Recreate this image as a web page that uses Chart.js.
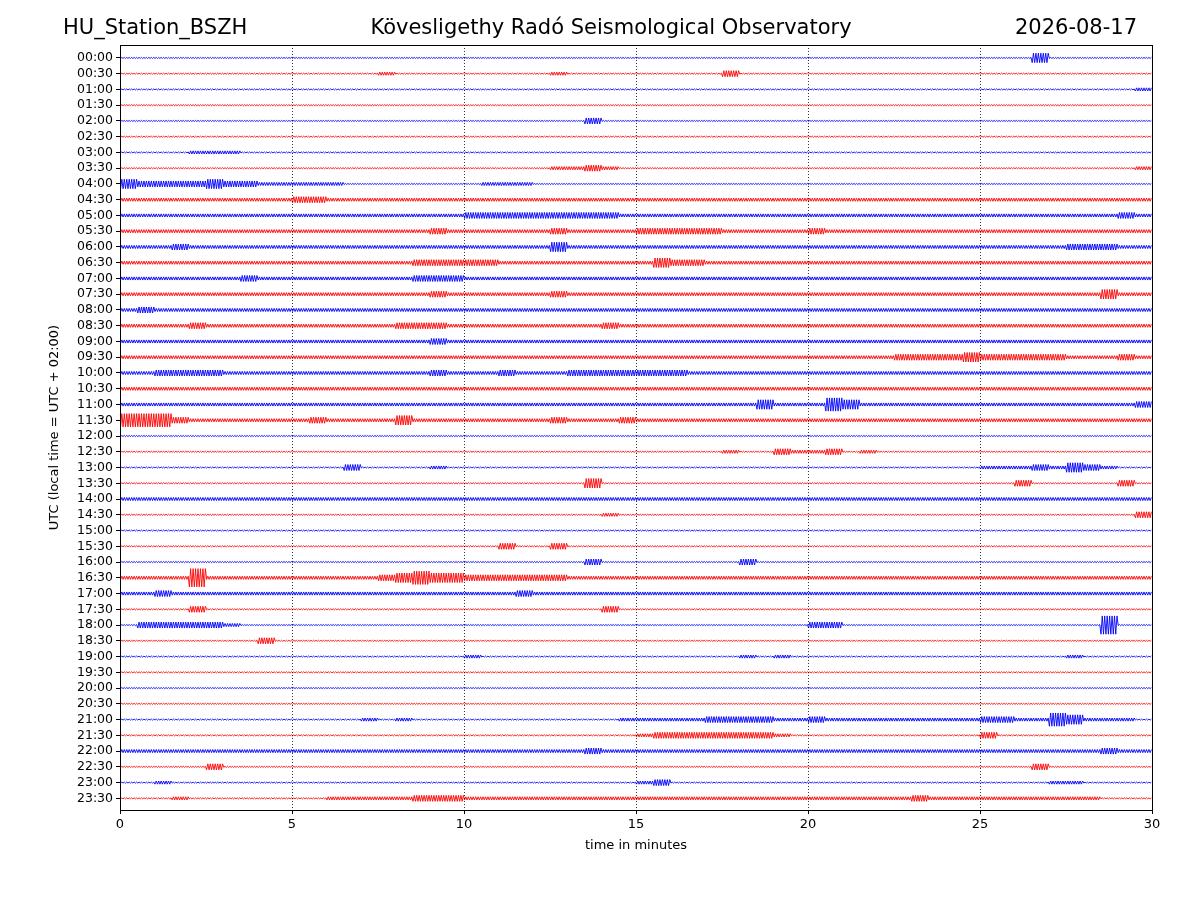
<!DOCTYPE html>
<html>
<head>
<meta charset="utf-8">
<script src="https://cdn.jsdelivr.net/npm/chart.js@4/dist/chart.umd.min.js"></script>
<style>
body { margin:0; background:#fff; font-family:"DejaVu Sans", sans-serif; }
#wrap { position:relative; width:1200px; height:900px; }
.hd { position:absolute; top:15px; font-size:21px; color:#000; white-space:nowrap; }
canvas { position:absolute; left:0; top:0; }
</style>
</head>
<body>
<div id="wrap">
  <canvas id="heli" width="1200" height="900"></canvas>
  <div class="hd" style="left:63px">HU_Station_BSZH</div>
  <div class="hd" style="left:611px;transform:translateX(-50%)">Kövesligethy Radó Seismological Observatory</div>
  <div class="hd" style="right:63px">2026-08-17</div>
</div>
<script>
var rowLabels = [];
for (var h = 0; h < 24; h++) {
    var hh = (h < 10 ? '0' : '') + h;
    rowLabels.push(hh + ':00', hh + ':30');
}

// amplitude level per 30 s bin (60 bins = 30 minutes)
var traceLevels = [
 '1111111111 1111111111 1111111111 1111111111 1111111111 1114111111',
 '1111111111 1111121111 1111121111 1111131111 1111111111 1111111111',
 '1111111111 1111111111 1111111111 1111111111 1111111111 1111111112',
 '1111111111 1111111111 1111111111 1111111111 1111111111 1111111111',
 '1111111111 1111111111 1111111311 1111111111 1111111111 1111111111',
 '1111111111 1111111111 1111111111 1111111111 1111111111 1111111111',
 '1111222111 1111111111 1111111111 1111111111 1111111111 1111111111',
 '1111111111 1111111111 1111122321 1111111111 1111111111 1111111112',
 '4333343322 2221111111 1222111111 1111111111 1111111111 1111111111',
 '2222222222 3322222222 2222222222 2222222222 2222222222 2222222222',
 '2222222222 2222222222 3333333332 2222222222 2222222222 2222222232',
 '2222222222 2222222232 2222232222 3333322222 3222222222 2222222222',
 '2223222222 2222222222 2222242222 2222222222 2222222222 2222233322',
 '2222222222 2222222333 3322222222 2433222222 2222222222 2222222222',
 '2222222322 2222222333 2222222222 2222222222 2222222222 2222222222',
 '2222222222 2222222232 2222232222 2222222222 2222222222 2222222422',
 '2322222222 2222222222 2222222222 2222222222 2222222222 2222222222',
 '2222322222 2222223332 2222222232 2222222222 2222222222 2222222222',
 '2222222222 2222222232 2222222222 2222222222 2222222222 2222222222',
 '2222222222 2222222222 2222222222 2222222222 2222233334 3333322232',
 '2233332222 2222222232 2232223333 3332222222 2222222222 2222222222',
 '2222222222 2222222222 2222222222 2222222222 2222222222 2222222222',
 '2222222222 2222222222 2222222222 2222222422 2542222222 2222222223',
 '5553222222 2322224222 2222232223 2222222222 2222222222 2222222222',
 '1111111111 1111111111 1111111111 1111111111 1111111111 1111111111',
 '1111111111 1111111111 1111111111 1111121132 2312111111 1111111111',
 '1111111111 1113111121 1111111111 1111111111 1111111111 2223243211',
 '1111111111 1111111111 1111111411 1111111111 1111111111 1131111131',
 '2222222222 2222222222 2222222222 2222222222 2222222222 2222222222',
 '1111111111 1111111111 1111111121 1111111111 1111111111 1111111113',
 '1111111111 1111111111 1111111111 1111111111 1111111111 1111111111',
 '1111111111 1111111111 1131131111 1111111111 1111111111 1111111111',
 '1111111111 1111111111 1111111311 1111113111 1111111111 1111111111',
 '2222622222 2222234544 3333332222 2222222222 2222222222 2222222222',
 '2232222222 2222222222 2223222222 2222222222 2222222222 2222222222',
 '1111311111 1111111111 1111111131 1111111111 1111111111 1111111111',
 '1333332111 1111111111 1111111111 1111111111 3311111111 1111111611',
 '1111111131 1111111111 1111111111 1111111111 1111111111 1111111111',
 '1111111111 1111111111 2111111111 1111112121 1111111111 1111121111',
 '1111111111 1111111111 1111111111 1111111111 1111111111 1111111111',
 '1111111111 1111111111 1111111111 1111111111 1111111111 1111111111',
 '1111111111 1111111111 1111111111 1111111111 1111111111 1111111111',
 '1111111111 1111212111 1111111112 2222333322 3222222222 3322542221',
 '1111111111 1111111111 1111111111 2333333321 1111111111 3111111111',
 '2222222222 2222222222 2222222322 2222222222 2222222222 2222222322',
 '1111131111 1111111111 1111111111 1111111111 1111111111 1113111111',
 '1121111111 1111111111 1111111111 2311111111 1111111111 1111221111',
 '1112111111 1122222333 2222222222 2222222222 2222223222 2222222111'
];
var ampByLevel = [0, 0.035, 0.1, 0.19, 0.3, 0.42, 0.58, 0.7, 0.8, 0.9];
var rowColors = ['#0000ff', '#ff0000'];
var perBin = 14;

var datasets = traceLevels.map(function(s, i) {
    var lv = s.replace(/ /g, '');
    var pts = [];
    for (var k = 0; k < 60; k++) {
        var a = ampByLevel[+lv.charAt(k) || 1];
        for (var j = 0; j < perBin; j++) {
            pts.push({x: k * 0.5 + (j + 0.5) * 0.5 / perBin, y: i + (j % 2 ? -a : a)});
        }
    }
    return {
        data: pts,
        borderColor: rowColors[i % 2],
        borderWidth: 0.9,
        pointRadius: 0,
        tension: 0
    };
});

var frame = {
    id: 'frame',
    afterDatasetsDraw: function(chart) {
        var c = chart.ctx, a = chart.chartArea, xs = chart.scales.x;
        c.save();
        c.strokeStyle = '#000';
        c.lineWidth = 0.8;
        c.setLineDash([1, 2]);
        [5, 10, 15, 20, 25].forEach(function(v) {
            var px = Math.round(xs.getPixelForValue(v)) + 0.5;
            c.beginPath(); c.moveTo(px, a.top); c.lineTo(px, a.bottom); c.stroke();
        });
        c.setLineDash([]);
        c.lineWidth = 1;
        c.strokeRect(a.left + 0.5, a.top + 0.5, a.right - a.left, a.bottom - a.top);
        c.restore();
    }
};

new Chart(document.getElementById('heli'), {
    type: 'line',
    data: { datasets: datasets },
    options: {
        responsive: false,
        animation: false,
        events: [],
        layout: { padding: { left: 45, right: 48, top: 45, bottom: 45 } },
        plugins: { legend: { display: false }, tooltip: { enabled: false } },
        scales: {
            x: {
                type: 'linear', min: 0, max: 30,
                afterFit: function(s) { s.height = 45; },
                ticks: { stepSize: 5, color: '#000', font: { size: 13, family: 'DejaVu Sans' } },
                grid: { drawOnChartArea: false, color: '#000', tickLength: 4 },
                border: { color: '#000' },
                title: { display: true, text: 'time in minutes', color: '#000', font: { size: 13, family: 'DejaVu Sans' }, padding: 2 }
            },
            y: {
                type: 'linear', min: -0.82, max: 47.74, reverse: true,
                afterFit: function(s) { s.width = 75; },
                afterBuildTicks: function(s) {
                    s.ticks = rowLabels.map(function(_, i) { return { value: i }; });
                },
                ticks: {
                    autoSkip: false, color: '#000', font: { size: 12.5, family: 'DejaVu Sans' },
                    callback: function(v) { return rowLabels[v]; }
                },
                grid: { drawOnChartArea: false, color: '#000', tickLength: 4 },
                border: { color: '#000' },
                title: { display: true, text: 'UTC (local time = UTC + 02:00)', color: '#000', font: { size: 13, family: 'DejaVu Sans' }, padding: 2 }
            }
        }
    },
    plugins: [frame]
});
</script>
</body>
</html>
